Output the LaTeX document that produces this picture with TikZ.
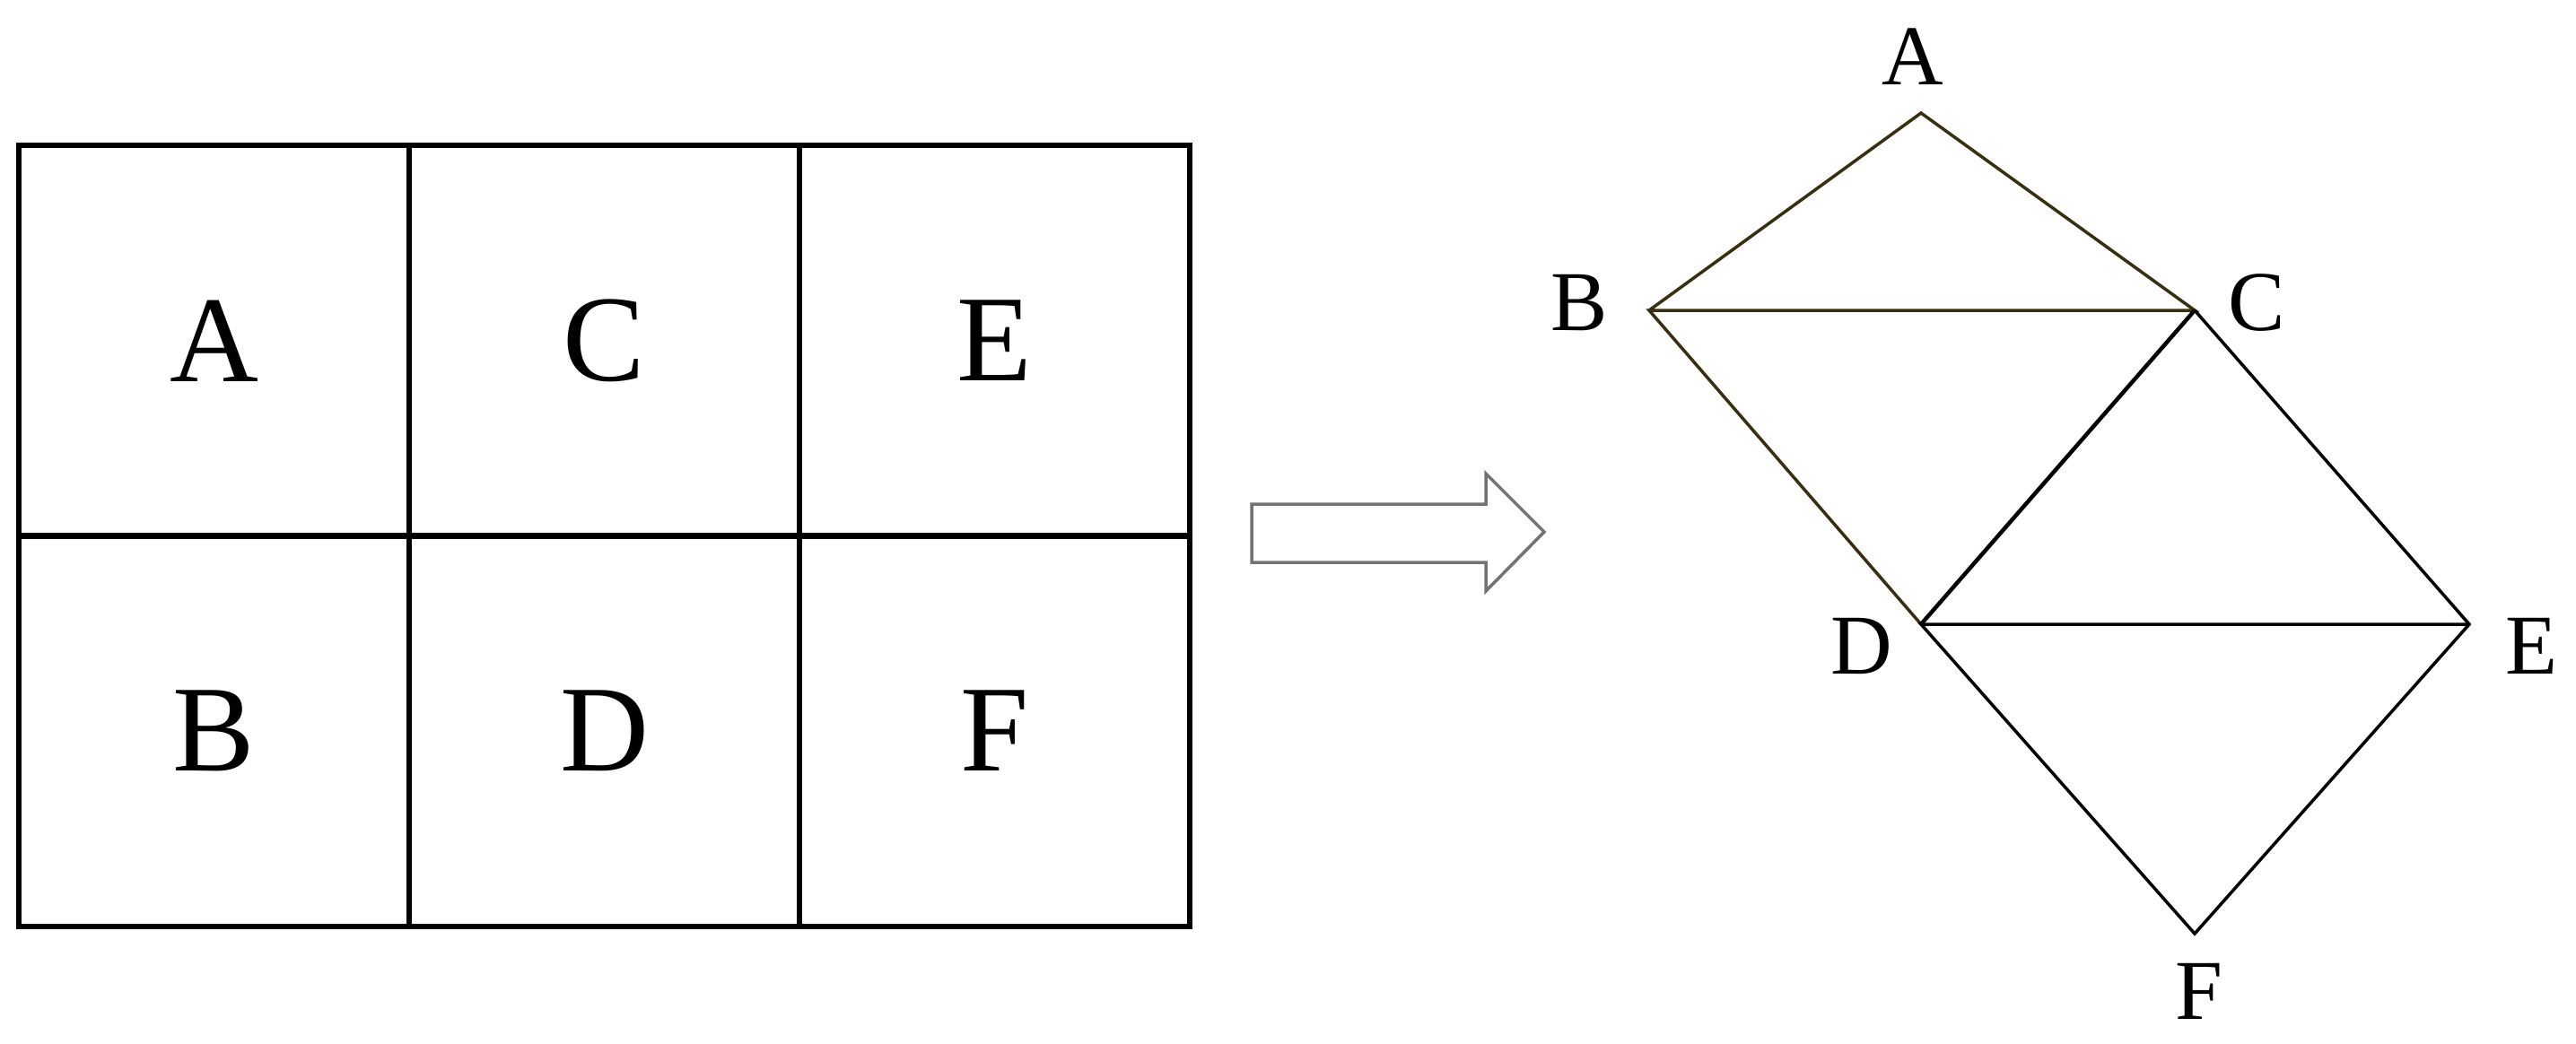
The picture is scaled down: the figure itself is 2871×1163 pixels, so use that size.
\documentclass[tikz,border=0pt]{standalone}
\usepackage{fontspec}
\setmainfont{Liberation Serif}
\begin{document}
\begin{tikzpicture}[x=1pt,y=-1pt,
  cell/.style={draw=black,line width=6pt,minimum width=435pt,minimum height=436pt,inner sep=0pt,anchor=north west,font=\fontsize{137}{137}\selectfont},
  lbl/.style={font=\fontsize{95}{95}\selectfont,inner sep=0pt},
  edge/.style={line width=3.5pt,line join=miter},
  brown/.style={draw={rgb,255:red,58;green,46;blue,16}}]
\useasboundingbox (0,0) rectangle (2871,1163);
\node[cell] (ca) at (18,159) {A};
\node[cell] (cc) at (453,159) {C};
\node[cell] (ce) at (888,159) {E};
\node[cell] (cb) at (18,594) {B};
\node[cell] (cd) at (453,594) {D};
\node[cell] (cf) at (888,594) {F};
\draw[draw=gray!90!black,line width=3.5pt,line join=miter] (1395,562) -- (1656,562) -- (1656,528) -- (1721,593) -- (1656,659) -- (1656,627) -- (1395,627) -- cycle;
\coordinate (A) at (2141,126);
\coordinate (B) at (1838,346);
\coordinate (C) at (2446,346);
\coordinate (D) at (2141,696);
\coordinate (E) at (2752,696);
\coordinate (F) at (2446,1041);
\draw[edge,brown] (B) -- (A) -- (C) -- (B) -- (D);
\draw[edge,line width=4.5pt] (C) -- (D);
\draw[edge] (C) -- (E) -- (F) -- (D) -- (E);
\node[lbl] (lA) at (2132,63) {A};
\node[lbl] (lB) at (1760,338) {B};
\node[lbl] (lC) at (2515,338) {C};
\node[lbl] (lD) at (2075,720) {D};
\node[lbl] (lE) at (2821,720) {E};
\node[lbl] (lF) at (2451,1105) {F};
\end{tikzpicture}
\end{document}
